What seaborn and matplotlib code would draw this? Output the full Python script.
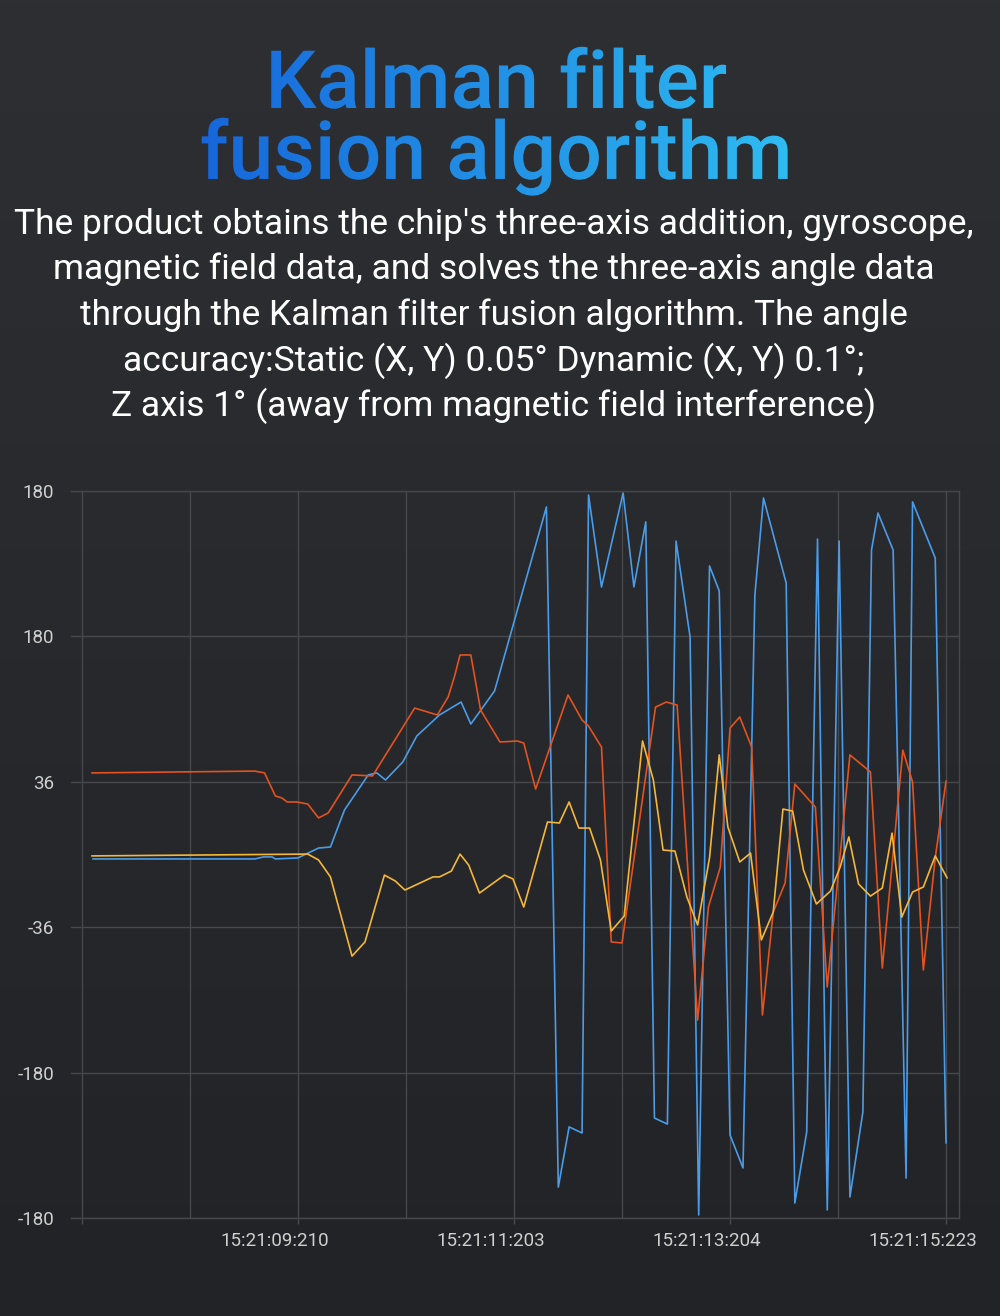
import numpy as np
import pandas as pd
import matplotlib
matplotlib.use("Agg")
import matplotlib.pyplot as plt
import matplotlib.colors as mcolors
import matplotlib.patheffects as pe
from matplotlib.transforms import TransformedPath, ScaledTranslation
import seaborn as sns

# ---- data (time in s, angle in deg) ----
roll_t = [7.30, 8.81, 8.90, 9.00, 9.06, 9.11, 9.20, 9.30, 9.40, 9.49, 9.71, 9.90,
          10.29, 10.50, 10.60, 10.66, 10.71, 10.81, 10.90, 11.08, 11.24, 11.30, 11.41,
          11.71, 11.84, 11.90, 12.02, 12.11, 12.21, 12.52, 12.62, 12.72, 12.91, 13.01,
          13.12, 13.21, 13.30, 13.41, 13.51, 13.61, 13.72, 13.81, 14.00, 14.11, 14.32,
          14.51, 14.62, 14.81, 14.90, 15.00, 15.11, 15.21]
roll = [40.4, 41.3, 40.4, 29.0, 28.0, 26.0, 26.0, 25.0, 18.1, 20.6, 39.4, 38.9,
        72.5, 69.1, 78.0, 88.4, 98.8, 98.8, 71.6, 55.7, 56.2, 55.2, 32.4,
        79.0, 66.6, 63.6, 53.2, -43.3, -43.8, 73.0, 75.5, 74.0, -82.0, -26.0,
        -6.2, 62.6, 68.1, 53.2, -79.5, -28.5, -14.1, 34.9, 23.5, -65.6, 49.3,
        40.9, -56.2, 51.7, 35.9, -57.2, -1.7, 36.4]

pitch_t = [7.30, 9.30, 9.40, 9.51, 9.71, 9.83, 10.01, 10.11, 10.20, 10.46, 10.52,
           10.63, 10.71, 10.79, 10.89, 11.12, 11.20, 11.30, 11.52, 11.63, 11.72, 11.81,
           11.91, 12.01, 12.11, 12.23, 12.40, 12.50, 12.59, 12.70, 12.81, 12.91, 13.02,
           13.11, 13.19, 13.30, 13.40, 13.50, 13.61, 13.70, 13.79, 13.89, 14.01, 14.14,
           14.23, 14.31, 14.40, 14.51, 14.62, 14.71, 14.80, 14.90, 15.00, 15.11, 15.22]
pitch = [-0.7, 0.2, -2.7, -11.1, -50.3, -43.3, -10.2, -13.1, -17.6, -11.1, -11.1,
         -8.2, 0.2, -5.2, -19.1, -10.2, -12.1, -26.0, 16.1, 15.6, 26.0, 13.1,
         13.1, -2.7, -37.9, -30.5, 56.2, 36.9, 2.2, 1.7, -21.0, -34.9, -1.7,
         49.3, 13.6, -3.7, 0.7, -42.3, -28.5, 22.5, 21.5, -7.7, -24.5, -18.1,
         -6.2, 8.7, -14.6, -20.6, -16.6, 10.6, -31.0, -18.6, -16.1, -0.7, -11.6]

yaw_t = [7.31, 8.81, 8.89, 8.97, 9.00, 9.21, 9.40, 9.51, 9.64, 9.86, 9.94, 10.02,
         10.18, 10.31, 10.52, 10.72, 10.81, 11.03, 11.51, 11.62, 11.72, 11.84, 11.90,
         12.02, 12.22, 12.32, 12.43, 12.51, 12.63, 12.71, 12.84, 12.92, 13.02, 13.11,
         13.21, 13.33, 13.44, 13.52, 13.73, 13.81, 13.92, 14.02, 14.11, 14.22, 14.32,
         14.44, 14.52, 14.58, 14.72, 14.84, 14.90, 15.11, 15.21]
yaw = [-2.2, -2.2, -1.2, -1.2, -2.2, -1.7, 3.2, 3.7, 22.0, 39.4, 40.4, 36.9,
       45.8, 58.7, 69.1, 75.5, 64.6, 81.0, 172.1, -164.7, -134.9, -137.9, 178.0,
       132.5, 179.0, 132.5, 164.7, -130.5, -133.5, 155.2, 107.7, -178.5, 142.9, 130.5,
       -138.9, -155.2, 128.5, 176.5, 134.4, -172.6, -137.4, 156.2, -176.0, 155.2, -169.6,
       -127.5, 150.8, 169.1, 150.8, -160.2, 174.6, 146.8, -142.9]

y_ticks = [-180, -108, -36, 36, 108, 180]
y_labels = ["-180", "-180", "-36", "36", "180", "180"]
x_ticks = [7.21, 9.21, 11.21, 13.21, 15.21]
x_labels = ["", "15:21:09:210", "15:21:11:203", "15:21:13:204", "15:21:15:223"]
x_minor = [8.21, 10.21, 12.21, 14.21]

title = "Kalman filter\nfusion algorithm"
sub_lines = [
    "The product obtains the chip's three-axis addition, gyroscope,",
    "magnetic field data, and solves the three-axis angle data",
    "through the Kalman filter fusion algorithm. The angle",
    "accuracy:Static (X, Y) 0.05° Dynamic (X, Y) 0.1°;",
    "Z axis 1° (away from magnetic field interference)",
]

df = pd.concat([
    pd.DataFrame({"time": yaw_t, "angle": yaw, "axis": "Z"}),
    pd.DataFrame({"time": roll_t, "angle": roll, "axis": "X"}),
    pd.DataFrame({"time": pitch_t, "angle": pitch, "axis": "Y"}),
], ignore_index=True)
palette = {"Z": "#4a9ce8", "X": "#e4521f", "Y": "#f4b73a"}

sns.set_style("dark")
plt.rcParams["font.family"] = ["Roboto", "DejaVu Sans"]


class GradientFill(pe.AbstractPathEffect):
    """fill text glyphs with a horizontal colour gradient"""

    def __init__(self, c_left, c_right, x_left, x_right):
        super().__init__()
        self.c0 = np.array(mcolors.to_rgb(c_left))
        self.c1 = np.array(mcolors.to_rgb(c_right))
        self.xl, self.xr = x_left, x_right

    def draw_path(self, renderer, gc, tpath, affine, rgbFace=None):
        ext = affine.transform_path(tpath).get_extents()
        x0, x1 = int(np.floor(ext.x0)) - 1, int(np.ceil(ext.x1)) + 1
        y0, y1 = int(np.floor(ext.y0)) - 1, int(np.ceil(ext.y1)) + 1
        xs = np.arange(x0, x1) + 0.5
        frac = np.clip((xs - self.xl) / (self.xr - self.xl), 0, 1)
        rgb = self.c0 + (self.c1 - self.c0) * frac[:, None]
        img = np.empty((y1 - y0, x1 - x0, 4), np.uint8)
        img[..., :3] = (rgb * 255).astype(np.uint8)[None, :, :]
        img[..., 3] = 255
        gc2 = renderer.new_gc()
        gc2.copy_properties(gc)
        gc2.set_clip_path(TransformedPath(tpath, affine))
        renderer.draw_image(gc2, x0, y0, img)
        gc2.restore()


W, H = 1000, 1316
fig = plt.figure(figsize=(W / 100, H / 100), dpi=100)

# background
bg = fig.add_axes([0, 0, 1, 1], zorder=-10)
top_c = np.array(mcolors.to_rgb("#2e2f32"))
bot_c = np.array(mcolors.to_rgb("#222326"))
grad = np.linspace(0, 1, 256)[:, None, None] * (bot_c - top_c) + top_c
bg.imshow(grad, aspect="auto", extent=[0, 1, 0, 1])
bg.axis("off")

# title (one text, two lines, gradient fill)
grad_fx = GradientFill("#1767da", "#2fbdf2", 205, 797)
fig.text(496 / W, 1 - 47 / H, title, ha="center", va="top", multialignment="center",
         linespacing=0.87, fontsize=58, fontweight="medium", color="#1f8ae6",
         path_effects=[grad_fx])

for i, line in enumerate(sub_lines):
    fig.text(494 / W, 1 - (234 + i * 45.5) / H, line, ha="center", va="baseline",
             fontsize=25.5, color="white")

# chart
ax = fig.add_axes([71 / W, 1 - 1218 / H, (959 - 71) / W, (1218 - 491) / H])
ax.set_facecolor("none")
sns.lineplot(data=df, x="time", y="angle", hue="axis", hue_order=["Z", "X", "Y"],
             palette=palette, estimator=None, sort=False, linewidth=1.2,
             legend=False, ax=ax)

ax.set_xlim(7.108, 15.33)
ax.set_ylim(-180, 180)
ax.set_yticks(y_ticks)
ax.set_yticklabels(y_labels)
ax.set_xticks(x_ticks)
ax.set_xticklabels(x_labels)
ax.set_xticks(x_minor, minor=True)
ax.set_xlabel("")
ax.set_ylabel("")

grid_c = "#47484b"
ax.grid(True, which="major", color=grid_c, linewidth=1.0)
ax.grid(True, which="minor", axis="x", color=grid_c, linewidth=1.0)
for side in ["top", "right", "bottom"]:
    ax.spines[side].set_visible(True)
    ax.spines[side].set_color(grid_c)
    ax.spines[side].set_linewidth(1.0)
ax.spines["left"].set_visible(False)

ax.tick_params(axis="y", length=0, pad=12, labelsize=13.5, labelcolor="#cfcfcf")
ax.tick_params(axis="x", which="major", bottom=True, length=4, width=1.0,
               color=grid_c, pad=6, labelsize=13.5, labelcolor="#cfcfcf")
ax.tick_params(axis="x", which="minor", length=0)

shift = ScaledTranslation(-0.23, 0, fig.dpi_scale_trans)
for lab in ax.get_xticklabels():
    lab.set_transform(lab.get_transform() + shift)

fig.savefig("out.png", dpi=100)
